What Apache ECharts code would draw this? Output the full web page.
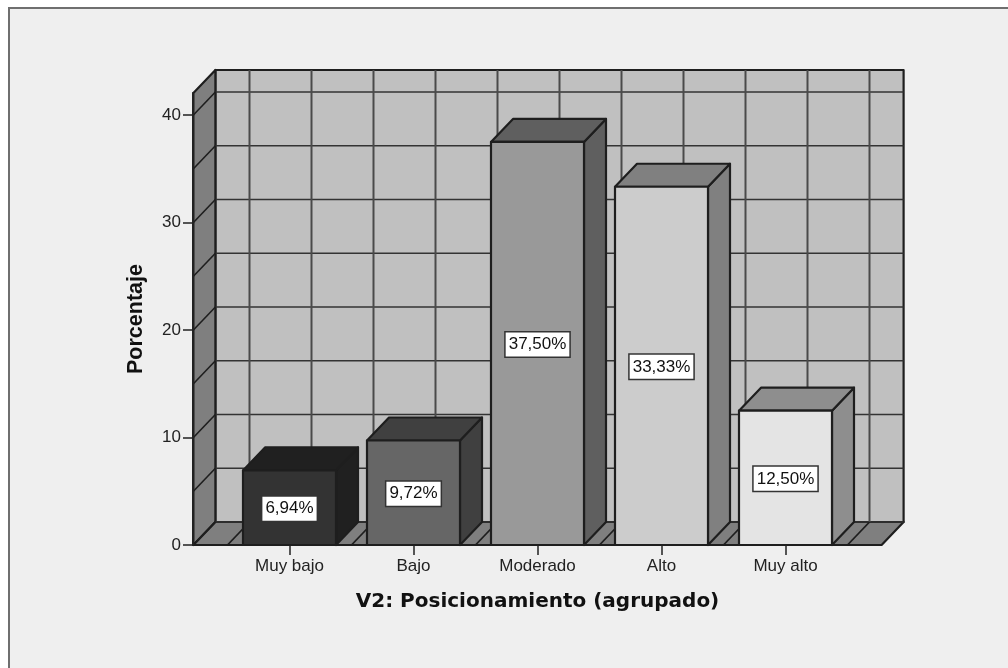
<!DOCTYPE html>
<html>
<head>
<meta charset="utf-8">
<style>html,body{margin:0;padding:0;background:#fff}#c{width:1008px;height:668px}</style>
<script src="https://cdn.jsdelivr.net/npm/echarts@6/dist/echarts.min.js"></script>
</head>
<body>
<div id="c"></div>
<script>
const categories = ['Muy bajo', 'Bajo', 'Moderado', 'Alto', 'Muy alto'];
const percentages = [6.94, 9.72, 37.50, 33.33, 12.50];
const yTicks = [0, 10, 20, 30, 40];
const wallLines = [0, 5, 10, 15, 20, 25, 30, 35, 40];
const yTop = 42.05;
const frontColors = ['#333333', '#666666', '#999999', '#cccccc', '#e4e4e4'];
const shadeColors = ['#202020', '#404040', '#5f5f5f', '#808080', '#8e8e8e'];

const FONT = '"Liberation Sans", Arial, sans-serif';
const DX = 22, DY = 23;
const INK = '#1e1e1e';

function poly(points, fill) {
  return { type: 'polygon', shape: { points }, style: { fill, stroke: INK, lineWidth: 2.2, lineJoin: 'round' } };
}
function seg(a, b, stroke, lineWidth) {
  return { type: 'line', shape: { x1: a[0], y1: a[1], x2: b[0], y2: b[1] }, style: { stroke, lineWidth } };
}

function renderWalls(params, api) {
  const band = api.size([1, 0])[0];
  const side = band * 0.275;
  const first = api.coord([0, 0])[0] - band / 2;
  const last = api.coord([categories.length - 1, 0])[0] + band / 2;
  const L = first - side, R = last + side;
  const y0 = api.coord([0, 0])[1], yT = api.coord([0, yTop])[1];
  const ch = [];
  ch.push(poly([[L + DX, yT - DY], [R + DX, yT - DY], [R + DX, y0 - DY], [L + DX, y0 - DY]], '#c0c0c0'));
  ch.push(poly([[L, yT], [L + DX, yT - DY], [L + DX, y0 - DY], [L, y0]], '#7f7f7f'));
  ch.push(poly([[L, y0], [L + DX, y0 - DY], [R + DX, y0 - DY], [R, y0]], '#7f7f7f'));
  wallLines.forEach(v => {
    const y = api.coord([0, v])[1];
    ch.push(seg([L + DX, y - DY], [R + DX, y - DY], '#333333', 1.6));
    ch.push(seg([L, y], [L + DX, y - DY], INK, 1.6));
  });
  for (let k = 0; k <= categories.length * 2; k++) {
    const x = first + k * band / 2;
    ch.push(seg([x + DX, yT - DY], [x + DX, y0 - DY], '#4a4a4a', 2));
    ch.push(seg([x, y0], [x + DX, y0 - DY], INK, 1.8));
  }
  return { type: 'group', children: ch };
}

function renderBar(params, api) {
  const i = api.value(0), v = api.value(1);
  const c = api.coord([i, v]), b = api.coord([i, 0]);
  const w = api.size([1, 0])[0] * 0.75;
  const l = c[0] - w / 2, r = c[0] + w / 2, t = c[1], y0 = b[1];
  const label = v.toFixed(2).replace('.', ',') + '%';
  return {
    type: 'group',
    children: [
      poly([[r, t], [r + DX, t - DY], [r + DX, y0 - DY], [r, y0]], shadeColors[i]),
      poly([[l, t], [l + DX, t - DY], [r + DX, t - DY], [r, t]], shadeColors[i]),
      poly([[l, t], [r, t], [r, y0], [l, y0]], frontColors[i]),
      {
        type: 'text',
        style: {
          x: c[0], y: (t + y0) / 2 + 1, text: label, align: 'center', verticalAlign: 'middle',
          fill: '#111', font: '17px ' + FONT, backgroundColor: '#fff',
          borderColor: '#333', borderWidth: 1.5, padding: [4, 3, 3, 3]
        }
      }
    ]
  };
}

const chart = echarts.init(document.getElementById('c'), null, { renderer: 'canvas' });
chart.setOption({
  animation: false,
  backgroundColor: '#ffffff',
  graphic: [{
    type: 'rect', z: -10, silent: true,
    shape: { x: 9, y: 8, width: 1020, height: 680 },
    style: { fill: '#efefef', stroke: '#6f6f6f', lineWidth: 2 }
  }],
  grid: { left: 227.5, right: 160.5, top: 93, bottom: 123 },
  xAxis: {
    type: 'category',
    data: categories,
    name: 'V2: Posicionamiento (agrupado)',
    nameLocation: 'middle',
    nameGap: 47,
    nameTextStyle: { fontFamily: '"DejaVu Sans"', fontWeight: 'bold', fontSize: 20, color: '#111' },
    axisLine: { show: false },
    axisTick: { show: true, alignWithLabel: true, length: 10, lineStyle: { color: '#222', width: 1.5 } },
    axisLabel: { fontFamily: FONT, fontSize: 17, color: '#222', margin: 13, interval: 0 },
    z: 5
  },
  yAxis: {
    type: 'value',
    min: 0,
    max: yTop,
    offset: 34.5,
    name: 'Porcentaje',
    nameLocation: 'middle',
    nameGap: 46,
    nameTextStyle: { fontFamily: FONT, fontWeight: 'bold', fontSize: 21.5, color: '#111' },
    splitLine: { show: false },
    axisLine: { show: true, lineStyle: { color: '#222', width: 2 } },
    axisTick: { show: true, length: 10, customValues: yTicks, lineStyle: { color: '#222', width: 1.5 } },
    axisLabel: { fontFamily: FONT, fontSize: 17, color: '#222', margin: 12, customValues: yTicks, padding: [4, 0, 0, 0] },
    z: 5
  },
  series: [
    { type: 'custom', name: 'walls', coordinateSystem: 'cartesian2d', z: 1, silent: true, clip: false,
      renderItem: renderWalls, data: [[0, 0]] },
    { type: 'custom', name: 'Porcentaje', coordinateSystem: 'cartesian2d', z: 2, silent: true, clip: false,
      renderItem: renderBar, encode: { x: 0, y: 1 },
      data: percentages.map((v, i) => [i, v]) }
  ]
});
</script>
</body>
</html>
